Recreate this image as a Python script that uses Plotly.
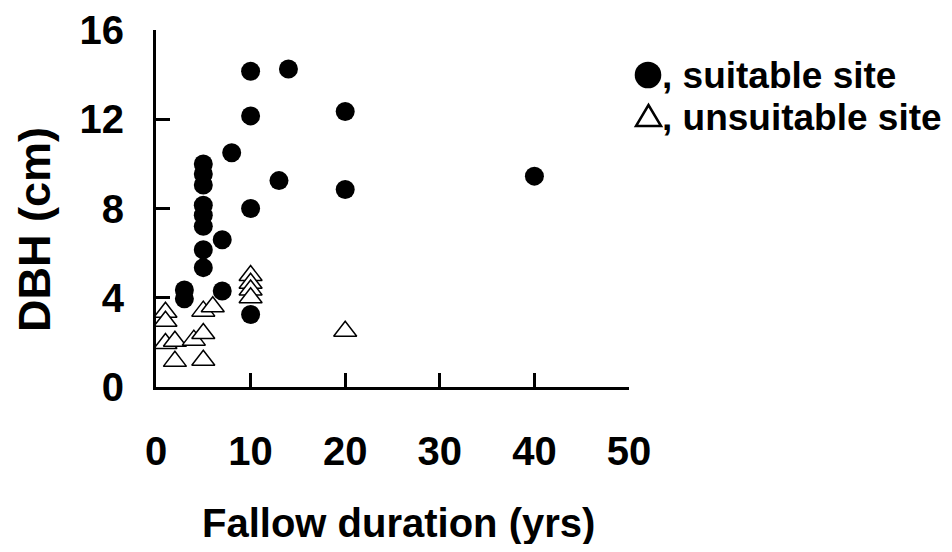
import plotly.graph_objects as go

# Suitable site (filled circles)
suitable_x = [3, 3, 5, 5, 5, 5, 5, 5, 5, 5, 7, 7, 8, 10, 10, 10, 10, 13, 14, 20, 20, 40]
suitable_y = [4.35, 3.95, 10.0, 9.55, 9.05, 8.15, 7.7, 7.2, 6.15, 5.35, 6.6, 4.3, 10.5,
              14.15, 12.15, 8.0, 3.25, 9.25, 14.25, 12.35, 8.85, 9.45]

# Unsuitable site (open triangles)
unsuitable_x = [1, 1, 1, 2, 2, 4, 5, 5, 5, 6, 10, 10, 10, 10, 20]
unsuitable_y = [3.35, 2.95, 1.95, 2.05, 1.15, 2.1, 3.4, 2.4, 1.2, 3.6, 5.0, 4.65, 4.35, 4.0, 2.5]

x_ticks = [0, 10, 20, 30, 40, 50]
y_ticks = [0, 4, 8, 12, 16]

FONT = "Liberation Sans, Arial, sans-serif"

# plot-area pixel frame (page coordinates) used to convert decoration positions
PX0, PX1, PY0, PY1 = 156, 629, 387, 30


def px(x):
    return (x - PX0) / (PX1 - PX0)


def py(y):
    return (PY0 - y) / (PY0 - PY1)


fig = go.Figure()
fig.add_trace(go.Scatter(
    x=suitable_x, y=suitable_y, mode="markers", name="suitable site",
    marker=dict(symbol="circle", size=19, color="black", line=dict(width=0)),
    cliponaxis=False, showlegend=False))
fig.add_trace(go.Scatter(
    x=unsuitable_x, y=unsuitable_y, mode="markers", name="unsuitable site",
    marker=dict(symbol="triangle-up", size=20, color="white",
                line=dict(color="black", width=1.5)),
    cliponaxis=False, showlegend=False))

axis_common = dict(showline=True, linewidth=3, linecolor="black", ticks="inside",
                   ticklen=14, tickwidth=3, tickcolor="black", showgrid=False,
                   zeroline=False, automargin=False,
                   tickfont=dict(family=FONT, size=40, color="black", weight="bold"))
fig.update_xaxes(range=[0, 50], tickvals=x_ticks, ticklabelstandoff=27, **axis_common)
fig.update_yaxes(range=[0, 16], tickvals=y_ticks, ticklabelstandoff=21, **axis_common)

titles = [
    dict(text="Fallow duration (yrs)", x=398, y=523, angle=0, size=40),
    dict(text="DBH (cm)", x=34, y=230, angle=-90, size=45),
]
for a in titles:
    fig.add_annotation(
        text=a["text"], xref="paper", yref="paper", x=px(a["x"]), y=py(a["y"]),
        xanchor="center", yanchor="middle", showarrow=False, textangle=a["angle"],
        font=dict(family=FONT, size=a["size"], color="black", weight="bold"))

# legend: symbol shapes + text
legend_labels = [", suitable site", ", unsuitable site"]
legend_rows = [75, 117]
for label, ypix in zip(legend_labels, legend_rows):
    fig.add_annotation(text=label, xref="paper", yref="paper",
                       x=px(661), y=py(ypix), xanchor="left", yanchor="middle",
                       showarrow=False, borderpad=0,
                       font=dict(family=FONT, size=37, color="black", weight="bold"))

r = 13.3
fig.add_shape(type="circle", xref="paper", yref="paper",
              x0=px(648 - r), x1=px(648 + r), y0=py(75 + r), y1=py(75 - r),
              fillcolor="black", line=dict(color="black", width=0))
tri = "M {:.4f} {:.4f} L {:.4f} {:.4f} L {:.4f} {:.4f} Z".format(
    px(636), py(126), px(661), py(126), px(648.5), py(105))
fig.add_shape(type="path", xref="paper", yref="paper", path=tri,
              fillcolor="white", line=dict(color="black", width=2.5))

fig.update_layout(width=936, height=536, margin=dict(l=148, r=315, t=22, b=157),
                  plot_bgcolor="white", paper_bgcolor="white",
                  font=dict(family=FONT, color="black"))

fig.write_html("out.html")
